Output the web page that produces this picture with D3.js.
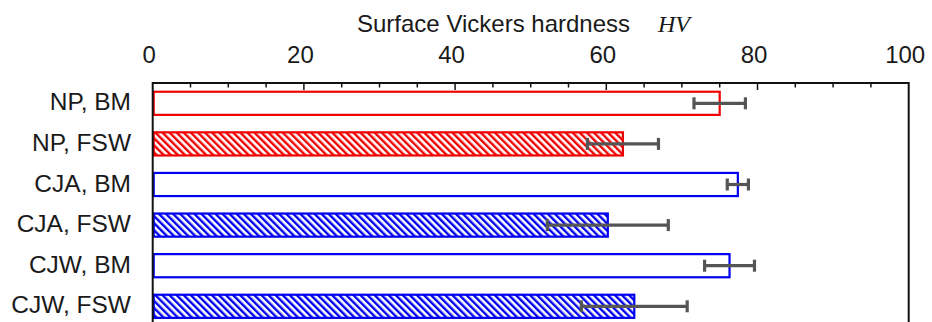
<!DOCTYPE html>
<html>
<head>
<meta charset="utf-8">
<script src="https://cdn.jsdelivr.net/npm/d3@7"></script>
<style>
    body { margin: 0; background: #fff; }
    text { font-family: "Liberation Sans", Arial, sans-serif; fill: #1a1a1a; }
</style>
</head>
<body>
<script>
// Chart data
var categories = ["NP, BM", "NP, FSW", "CJA, BM", "CJA, FSW", "CJW, BM", "CJW, FSW"];
var hardness = [75.0, 62.2, 77.4, 60.2, 76.3, 63.7];
var errors = [3.4, 4.7, 1.4, 8.0, 3.3, 7.0];
var groups = ["NP", "NP", "CJA", "CJA", "CJW", "CJW"];
var states = ["BM", "FSW", "BM", "FSW", "BM", "FSW"];
var xTicks = [0, 20, 40, 60, 80, 100];

function setChart() {
    // Frame dimensions
    var width = 932,
        height = 322;

    var svg = d3.select("body")
        .append("svg")
        .attr("width", width)
        .attr("height", height);

    var left = 152.7, right = 908.7, top = 83;

    var x = d3.scaleLinear()
        .domain([0, 100])
        .range([left, right]);

    var y = d3.scaleBand()
        .domain(categories)
        .range([top, top + 6 * 40.6])
        .paddingInner(0.43)
        .paddingOuter(0.215);

    var colour = function(g) { return g === "NP" ? "#f00000" : "#0000f0"; };

    // Hatch patterns for FSW bars
    var defs = svg.append("defs");
    ["NP", "CJA"].forEach(function(g) {
        var pat = defs.append("pattern")
            .attr("id", "hatch" + g)
            .attr("patternUnits", "userSpaceOnUse")
            .attr("width", 5)
            .attr("height", 5)
            .attr("patternTransform", "rotate(-45)");
        pat.append("rect")
            .attr("width", 5).attr("height", 5)
            .attr("fill", "#fff");
        pat.append("line")
            .attr("x1", 1.2).attr("y1", 0)
            .attr("x2", 1.2).attr("y2", 5)
            .attr("stroke", colour(g))
            .attr("stroke-width", 2.4);
    });

    var rows = categories.map(function(c, i) {
        return { cat: c, value: hardness[i], err: errors[i], group: groups[i], state: states[i] };
    });

    // Bars
    svg.selectAll(".bar")
        .data(rows)
        .enter()
        .append("rect")
        .attr("class", "bar")
        .attr("x", x(0) + 1)
        .attr("y", function(d) { return y(d.cat); })
        .attr("width", function(d) { return x(d.value) - x(0) - 1; })
        .attr("height", y.bandwidth())
        .attr("fill", function(d) {
            return d.state === "FSW" ? "url(#hatch" + (d.group === "NP" ? "NP" : "CJA") + ")" : "#fff";
        })
        .attr("stroke", function(d) { return colour(d.group); })
        .attr("stroke-width", 2.2);

    // Error bars
    var eb = svg.selectAll(".err")
        .data(rows)
        .enter()
        .append("g")
        .attr("class", "err")
        .attr("stroke", "#555")
        .attr("stroke-width", 3.2);
    eb.append("line")
        .attr("x1", function(d) { return x(d.value - d.err); })
        .attr("x2", function(d) { return x(d.value + d.err); })
        .attr("y1", function(d) { return y(d.cat) + y.bandwidth() / 2; })
        .attr("y2", function(d) { return y(d.cat) + y.bandwidth() / 2; });
    [-1, 1].forEach(function(s) {
        eb.append("line")
            .attr("x1", function(d) { return x(d.value + s * d.err); })
            .attr("x2", function(d) { return x(d.value + s * d.err); })
            .attr("y1", function(d) { return y(d.cat) + y.bandwidth() / 2 - 6; })
            .attr("y2", function(d) { return y(d.cat) + y.bandwidth() / 2 + 6; });
    });

    // Plot frame
    svg.append("rect")
        .attr("x", left)
        .attr("y", top)
        .attr("width", right - left)
        .attr("height", 260)
        .attr("fill", "none")
        .attr("stroke", "#111")
        .attr("stroke-width", 2);

    // Inward ticks on top edge: minor every 5, major every 20
    svg.selectAll(".tick")
        .data(d3.range(5, 100, 5))
        .enter()
        .append("line")
        .attr("class", "tick")
        .attr("x1", function(d) { return x(d); })
        .attr("x2", function(d) { return x(d); })
        .attr("y1", top)
        .attr("y2", function(d) { return top + (d % 20 === 0 ? 7 : 4.5); })
        .attr("stroke", "#111")
        .attr("stroke-width", 1.5);

    // Tick labels
    svg.selectAll(".tickLabel")
        .data(xTicks)
        .enter()
        .append("text")
        .attr("class", "tickLabel")
        .attr("x", function(d) { return x(d) - 3.5; })
        .attr("y", 63)
        .attr("text-anchor", "middle")
        .attr("font-size", 24)
        .text(function(d) { return d; });

    // Category labels
    svg.selectAll(".catLabel")
        .data(categories)
        .enter()
        .append("text")
        .attr("class", "catLabel")
        .attr("x", 131)
        .attr("y", function(d) { return y(d) + y.bandwidth() / 2 + 7; })
        .attr("text-anchor", "end")
        .attr("font-size", 24.5)
        .text(function(d) { return d; });

    // Axis title
    var title = svg.append("text")
        .attr("x", 357)
        .attr("y", 32)
        .attr("font-size", 24);
    title.append("tspan").text("Surface Vickers hardness");
    title.append("tspan")
        .attr("x", 658)
        .attr("font-family", "'Liberation Serif', 'Times New Roman', serif")
        .attr("font-style", "italic")
        .text("HV");
}

setChart();
</script>
</body>
</html>
